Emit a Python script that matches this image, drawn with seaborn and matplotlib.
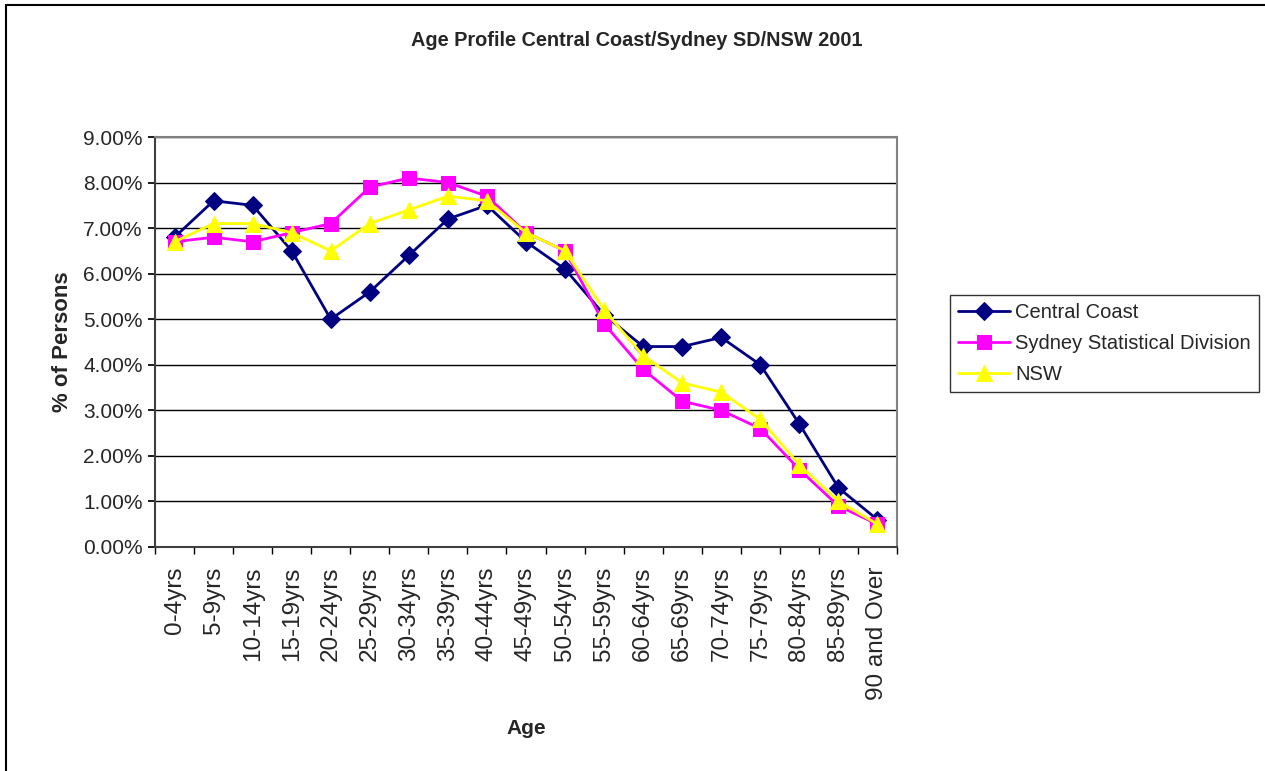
import matplotlib
matplotlib.use("Agg")
import matplotlib.pyplot as plt
import seaborn as sns
import pandas as pd
from matplotlib.ticker import FuncFormatter, FixedLocator
from matplotlib.lines import Line2D

ages = ["0-4yrs", "5-9yrs", "10-14yrs", "15-19yrs", "20-24yrs", "25-29yrs", "30-34yrs",
        "35-39yrs", "40-44yrs", "45-49yrs", "50-54yrs", "55-59yrs", "60-64yrs", "65-69yrs",
        "70-74yrs", "75-79yrs", "80-84yrs", "85-89yrs", "90 and Over"]
central_coast = [6.8, 7.6, 7.5, 6.5, 5.0, 5.6, 6.4, 7.2, 7.5, 6.7, 6.1, 5.1, 4.4, 4.4, 4.6, 4.0, 2.7, 1.3, 0.6]
sydney_sd = [6.7, 6.8, 6.7, 6.9, 7.1, 7.9, 8.1, 8.0, 7.7, 6.9, 6.5, 4.9, 3.9, 3.2, 3.0, 2.6, 1.7, 0.9, 0.5]
nsw = [6.7, 7.1, 7.1, 6.9, 6.5, 7.1, 7.4, 7.7, 7.6, 6.9, 6.5, 5.2, 4.2, 3.6, 3.4, 2.8, 1.8, 1.0, 0.5]
series_names = ["Central Coast", "Sydney Statistical Division", "NSW"]

rows = []
for name, vals in zip(series_names, [central_coast, sydney_sd, nsw]):
    for i, v in enumerate(vals):
        rows.append({"idx": i, "Age": ages[i], "pct": v, "Series": name})
df = pd.DataFrame(rows)

sns.set_theme(style="white")
plt.rcParams["font.family"] = ["Liberation Sans", "DejaVu Sans"]

fig = plt.figure(figsize=(12.65, 7.71), dpi=100)
W, H = 1265, 771
ax = fig.add_axes([155 / W, 1 - 547 / H, (897 - 155) / W, (547 - 137) / H])

palette = {"Central Coast": "#000080", "Sydney Statistical Division": "#FF00FF", "NSW": "#FFFF00"}
markers = {"Central Coast": "D", "Sydney Statistical Division": "s", "NSW": "^"}
msizes = {"Central Coast": 9, "Sydney Statistical Division": 10.5, "NSW": 11}

for name in series_names:
    sub = df[df["Series"] == name]
    sns.lineplot(data=sub, x="idx", y="pct", ax=ax, color=palette[name], marker=markers[name],
                 markersize=msizes[name], markeredgecolor=palette[name],
                 linewidth=2, label=name, legend=False)

ax.set_xlim(-0.5, len(ages) - 0.5)
ax.set_ylim(0, 9)
ax.yaxis.set_major_locator(FixedLocator([i for i in range(10)]))
ax.yaxis.set_major_formatter(FuncFormatter(lambda v, p: f"{v:.2f}%"))
ax.set_xticks(range(len(ages)))
ax.set_xticklabels(ages, rotation=90, fontsize=17.5)
ax.xaxis.set_minor_locator(FixedLocator([i - 0.5 for i in range(len(ages) + 1)]))
ax.tick_params(axis="x", which="major", length=0, pad=14)
ax.tick_params(axis="x", which="minor", length=5, color="black", direction="out", bottom=True)
ax.tick_params(axis="y", labelsize=15, length=5, color="black", direction="out", left=True, pad=4)
ax.grid(axis="y", color="black", linewidth=1)
ax.set_axisbelow(True)
for s in ["top", "right"]:
    ax.spines[s].set_color("#808080")
    ax.spines[s].set_linewidth(1.5)
for s in ["left", "bottom"]:
    ax.spines[s].set_color("#404040")
    ax.spines[s].set_linewidth(1.5)

ax.set_xlabel("Age", fontsize=15, fontweight="bold")
ax.xaxis.set_label_coords(0.5, 1 - (728 - 137) / (547 - 137), transform=ax.transAxes)
ax.xaxis.label.set_va("center")
ax.set_ylabel("% of Persons", fontsize=16, fontweight="bold")
ax.yaxis.set_label_coords(-(155 - 62) / (897 - 155), 0.5, transform=ax.transAxes)
ax.yaxis.label.set_va("center")
fig.text(637 / W, 1 - 41 / H, "Age Profile Central Coast/Sydney SD/NSW 2001",
         ha="center", va="center", fontsize=14.3, fontweight="bold")

handles, labels = ax.get_legend_handles_labels()
leg = fig.legend(handles, labels, loc="upper left",
                 bbox_to_anchor=(950 / W, 1 - 295 / H), fontsize=14.5,
                 frameon=True, fancybox=False, edgecolor="black", borderpad=0.4,
                 handlelength=2.6, handletextpad=0.25, labelspacing=0.6, borderaxespad=0)
leg.get_frame().set_linewidth(1)

fig.add_artist(Line2D([6 / W, 6 / W], [0, 1 - 5 / H], transform=fig.transFigure, color="black", linewidth=1.5))
fig.add_artist(Line2D([6 / W, 1], [1 - 5 / H, 1 - 5 / H], transform=fig.transFigure, color="black", linewidth=1.5))

fig.savefig("out.png", dpi=100)
